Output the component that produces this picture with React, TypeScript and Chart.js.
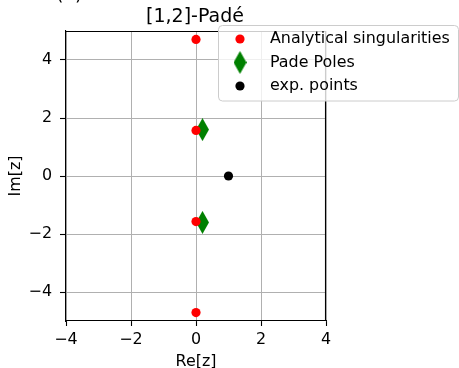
import React, { useEffect, useRef } from 'react';
import { Chart, registerables } from 'chart.js';
Chart.register(...registerables);

const seriesLabels = ['Analytical singularities', 'Pade Poles', 'exp. points'];
const singRe = [0, 0, 0, 0];
const singIm = [4.71, 1.57, -1.57, -4.71];
const poleRe = [0.2, 0.2];
const poleIm = [1.6, -1.6];
const expRe = [1];
const expIm = [0];
const xTicks = [-4, -2, 0, 2, 4];
const yTicks = [-4, -2, 0, 2, 4];
const titleText = '[1,2]-Padé';
const panelLabel = '(a)';
const xLabel = 'Re[z]';
const yLabel = 'Im[z]';

const FONT = '"DejaVu Sans", sans-serif';
const FS = 15.9;
const W = 459;
const H = 368;
const DW = 13;
const DH = 23;

function makeDiamond(): HTMLCanvasElement {
  const c = document.createElement('canvas');
  c.width = DW;
  c.height = DH;
  const g = c.getContext('2d')!;
  g.fillStyle = '#008000';
  g.beginPath();
  g.moveTo(DW / 2, 0);
  g.lineTo(DW, DH / 2);
  g.lineTo(DW / 2, DH);
  g.lineTo(0, DH / 2);
  g.closePath();
  g.fill();
  return c;
}

const fmt = (v: number) => (v < 0 ? '\u2212' + Math.abs(v) : String(v));

export default function App() {
  const ref = useRef<HTMLCanvasElement>(null);
  useEffect(() => {
    const diamond = makeDiamond();
    const pts = (xs: number[], ys: number[]) => xs.map((x, i) => ({ x, y: ys[i] }));
    const deco = {
      id: 'deco',
      afterDraw(chart: any) {
        const ctx = chart.ctx as CanvasRenderingContext2D;
        const a = chart.chartArea;
        ctx.save();
        // top & right spines
        ctx.strokeStyle = '#000';
        ctx.lineWidth = 1.1;
        ctx.beginPath();
        ctx.moveTo(a.left, a.top + 0.5);
        ctx.lineTo(a.right, a.top + 0.5);
        ctx.moveTo(a.right - 0.5, a.top);
        ctx.lineTo(a.right - 0.5, a.bottom);
        ctx.stroke();
        // title
        ctx.fillStyle = '#000';
        ctx.font = '19px ' + FONT;
        ctx.textAlign = 'center';
        ctx.textBaseline = 'alphabetic';
        ctx.fillText(titleText, 195, 21.5);
        // panel label (cut off)
        ctx.textAlign = 'left';
        ctx.fillText(panelLabel, 56, 0);
        // axis titles
        ctx.font = FS + 'px ' + FONT;
        ctx.textAlign = 'center';
        ctx.textBaseline = 'alphabetic';
        ctx.fillText(xLabel, (a.left + a.right) / 2, 366);
        ctx.save();
        ctx.translate(20, (a.top + a.bottom) / 2);
        ctx.rotate(-Math.PI / 2);
        ctx.fillText(yLabel, 0, 0);
        ctx.restore();
        // legend
        const lx = 218.5, ly = 25.5, lw = 240, lh = 75.5, r = 4;
        ctx.beginPath();
        ctx.moveTo(lx + r, ly);
        ctx.lineTo(lx + lw - r, ly);
        ctx.arcTo(lx + lw, ly, lx + lw, ly + r, r);
        ctx.lineTo(lx + lw, ly + lh - r);
        ctx.arcTo(lx + lw, ly + lh, lx + lw - r, ly + lh, r);
        ctx.lineTo(lx + r, ly + lh);
        ctx.arcTo(lx, ly + lh, lx, ly + lh - r, r);
        ctx.lineTo(lx, ly + r);
        ctx.arcTo(lx, ly, lx + r, ly, r);
        ctx.closePath();
        ctx.fillStyle = 'rgba(255,255,255,0.8)';
        ctx.fill();
        ctx.strokeStyle = '#cccccc';
        ctx.lineWidth = 1;
        ctx.stroke();
        const rows = [39, 62.5, 86];
        const mx = 240;
        ctx.fillStyle = '#ff0000';
        ctx.beginPath();
        ctx.arc(mx, rows[0], 4.6, 0, Math.PI * 2);
        ctx.fill();
        ctx.drawImage(diamond, mx - DW / 2, rows[1] - DH / 2);
        ctx.fillStyle = '#000';
        ctx.beginPath();
        ctx.arc(mx, rows[2], 4.6, 0, Math.PI * 2);
        ctx.fill();
        ctx.font = FS + 'px ' + FONT;
        ctx.textAlign = 'left';
        ctx.textBaseline = 'middle';
        seriesLabels.forEach((t, i) => ctx.fillText(t, 270, rows[i]));
        ctx.restore();
      },
    };
    const chart = new Chart(ref.current!, {
      type: 'scatter',
      data: {
        datasets: [
          { label: seriesLabels[0], data: pts(singRe, singIm), pointRadius: 4.6, pointBackgroundColor: '#ff0000', pointBorderWidth: 0, borderColor: '#ff0000' },
          { label: seriesLabels[1], data: pts(poleRe, poleIm), pointStyle: diamond as any, pointRadius: 8, pointBackgroundColor: '#008000', borderColor: '#008000' },
          { label: seriesLabels[2], data: pts(expRe, expIm), pointRadius: 4.6, pointBackgroundColor: '#000', pointBorderWidth: 0, borderColor: '#000' },
        ],
      },
      options: {
        responsive: false,
        animation: false,
        devicePixelRatio: 1,
        layout: { padding: { left: 0, top: 31, right: W - 326, bottom: 0 } },
        plugins: { legend: { display: false }, title: { display: false }, tooltip: { enabled: false } },
        scales: {
          x: {
            type: 'linear',
            min: -4,
            max: 4,
            afterBuildTicks: (s: any) => { s.ticks = xTicks.map((v) => ({ value: v })); },
            afterFit: (s: any) => { s.height = H - 321; },
            ticks: { callback: (v: any) => fmt(Number(v)), color: '#000', font: { family: FONT, size: FS }, padding: 4, maxRotation: 0 },
            grid: { color: '#b0b0b0', lineWidth: 1, tickColor: '#000', tickLength: 5, tickWidth: 1.1 },
            border: { color: '#000', width: 1.1 },
          },
          y: {
            type: 'linear',
            min: -5,
            max: 5,
            afterBuildTicks: (s: any) => { s.ticks = yTicks.map((v) => ({ value: v })); },
            afterFit: (s: any) => { s.width = 66; },
            ticks: { callback: (v: any) => fmt(Number(v)), color: '#000', font: { family: FONT, size: FS }, padding: 8 },
            grid: { color: '#b0b0b0', lineWidth: 1, tickColor: '#000', tickLength: 6, tickWidth: 1.1 },
            border: { color: '#000', width: 1.1 },
          },
        },
      },
      plugins: [deco],
    } as any);
    return () => chart.destroy();
  }, []);
  return (
    <div style={{ position: 'fixed', left: 0, top: 0, width: W, height: H, background: '#fff' }}>
      <canvas ref={ref} width={W} height={H} style={{ display: 'block', width: W, height: H }} />
    </div>
  );
}
